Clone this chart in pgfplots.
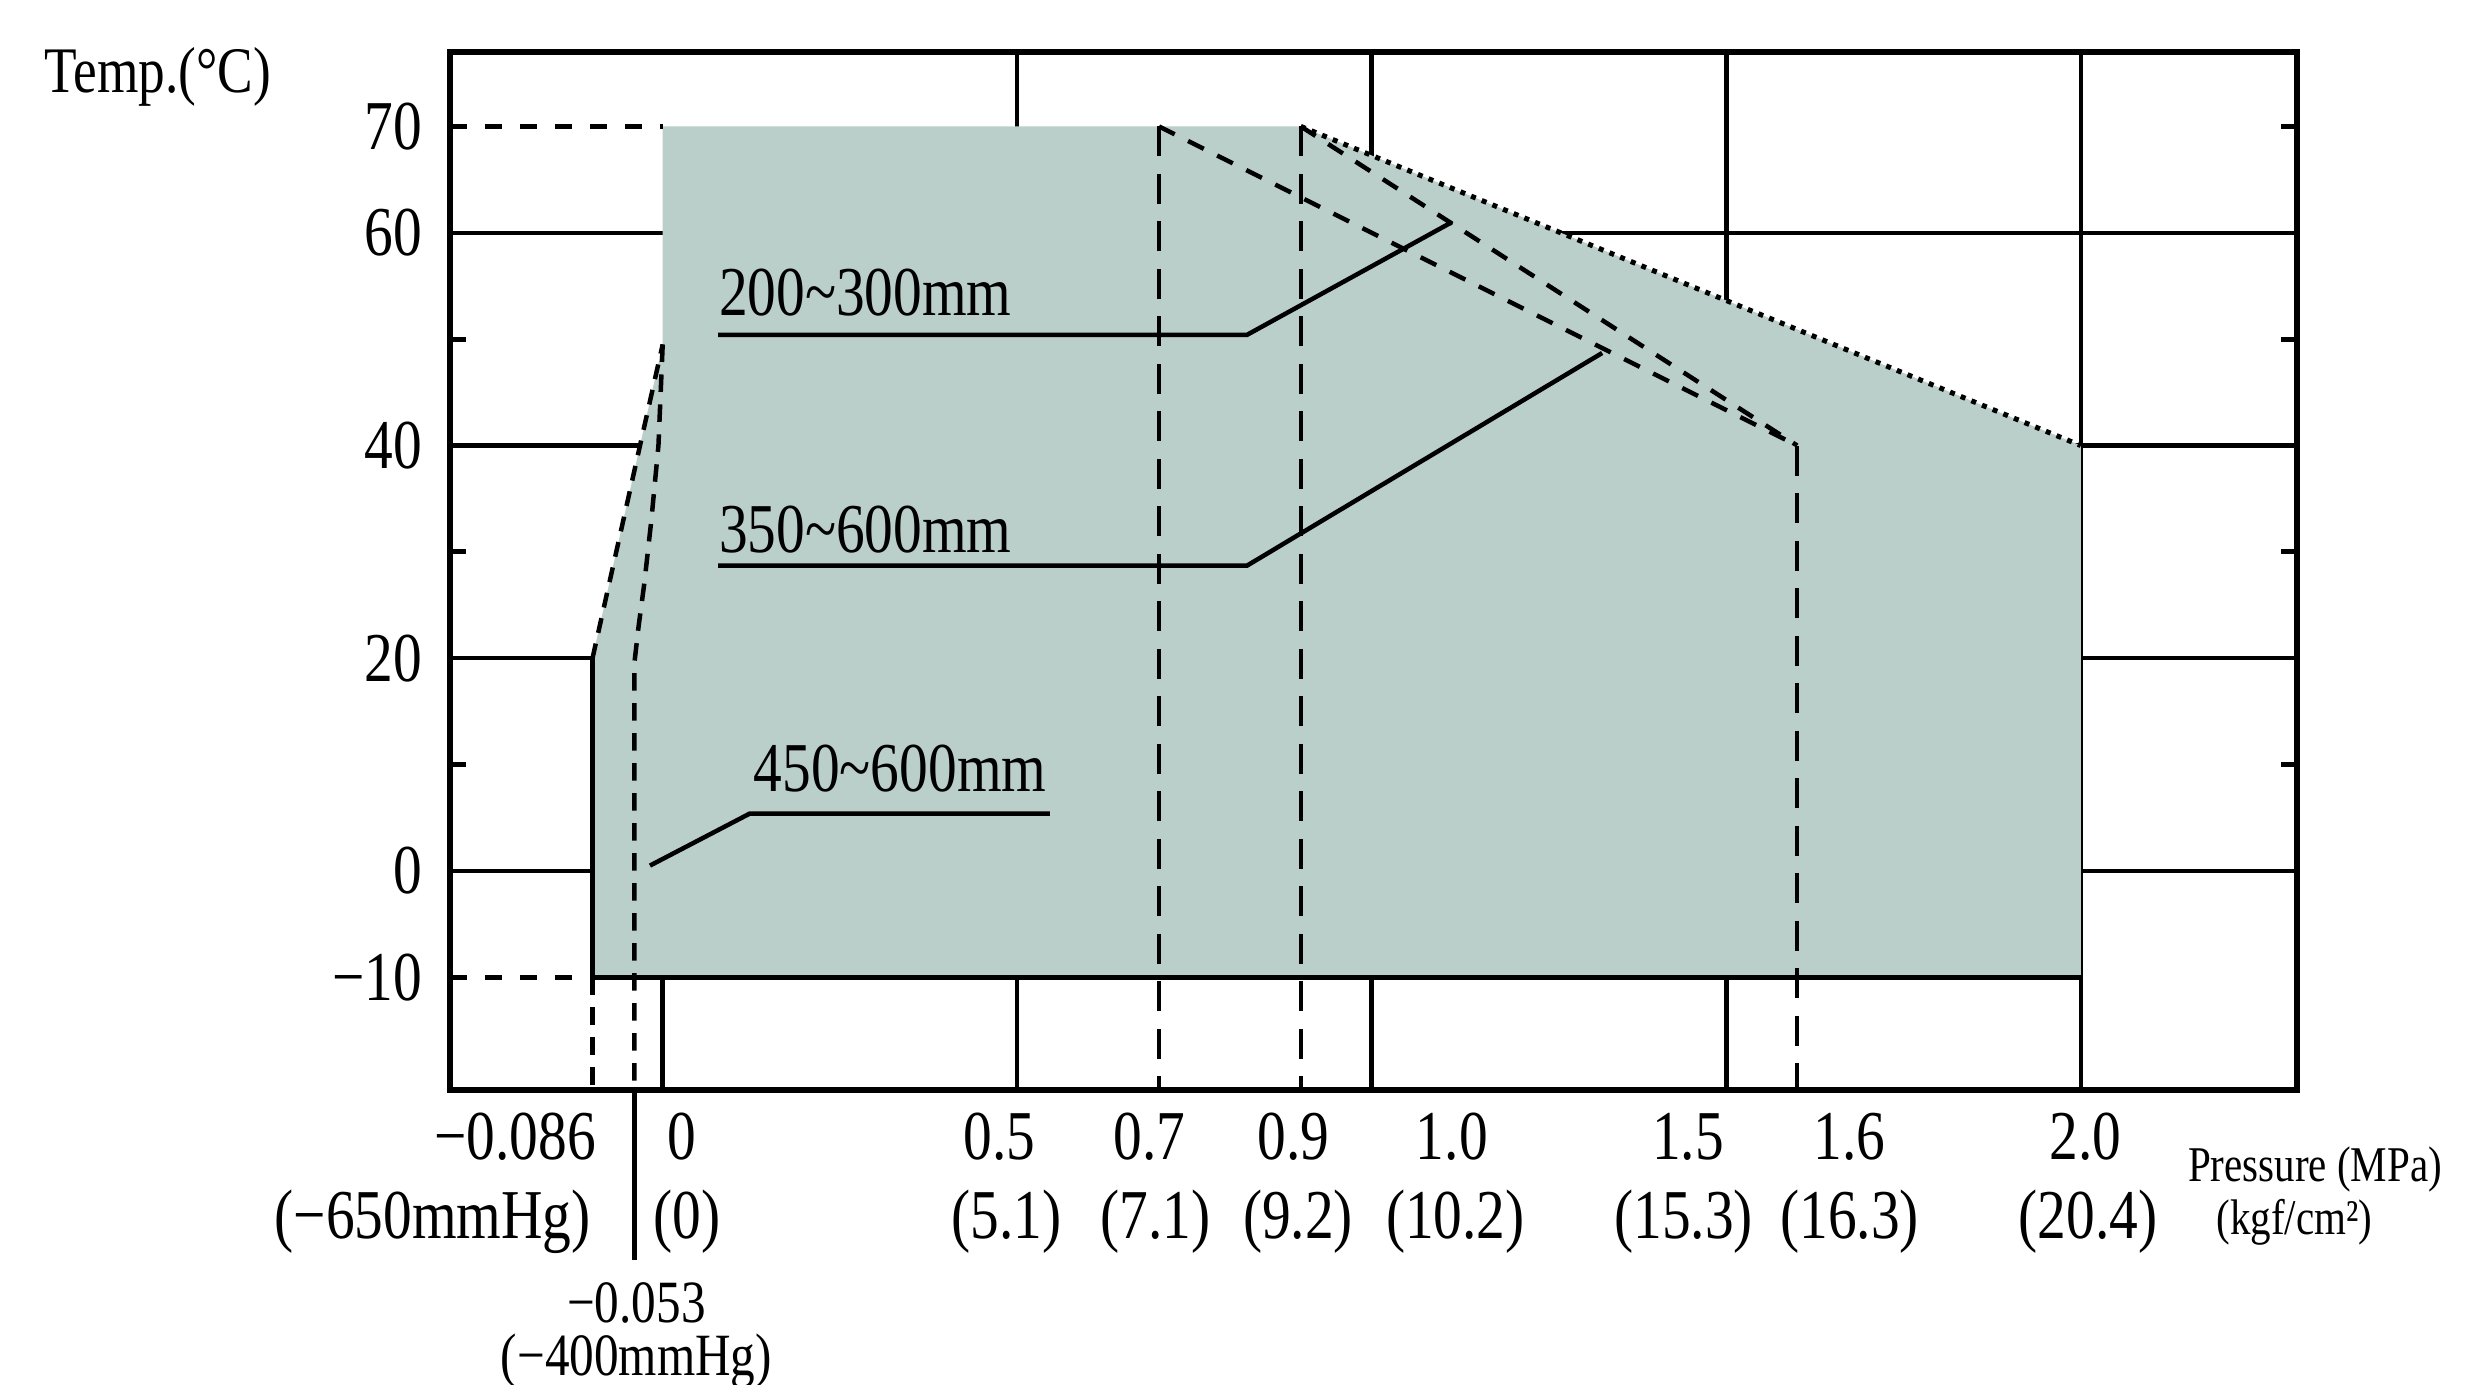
\documentclass[border=0pt]{standalone}
\usepackage{fontspec}
\setmainfont{Liberation Serif}[FakeStretch=0.82]
\usepackage{pgfplots}
\pgfplotsset{compat=1.18}
\definecolor{shade}{RGB}{186,206,202}
\begin{document}
\begin{tikzpicture}[font=\fontsize{14pt}{16pt}\selectfont]
\begin{axis}[
  width=369.4pt, height=207.6pt, scale only axis,
  xmin=-0.3, xmax=2.305, ymin=-20.6, ymax=77,
  axis on top, clip=false,
  axis line style={line width=1.2pt},
  xtick=\empty,
  ytick={-10,0,20,40,60,70},
  yticklabels={−10,0,20,40,60,70},
  major tick length=0pt,
  yticklabel style={anchor=east, inner sep=0pt, xshift=-5.4pt, font=\fontsize{14pt}{16pt}\selectfont},
]
% grid lines (drawn under the shaded region)
\addplot[black, line width=0.9pt] coordinates {(0.5,-20.6) (0.5,77)};
\addplot[black, line width=0.9pt] coordinates {(1.0,-20.6) (1.0,77)};
\addplot[black, line width=0.9pt] coordinates {(1.5,-20.6) (1.5,77)};
\addplot[black, line width=0.9pt] coordinates {(2.0,-20.6) (2.0,77)};
\addplot[black, line width=0.9pt] coordinates {(0,-20.6) (0,-10)};
\addplot[black, line width=0.9pt] coordinates {(-0.3,0) (2.305,0)};
\addplot[black, line width=0.9pt] coordinates {(-0.3,20) (2.305,20)};
\addplot[black, line width=0.9pt] coordinates {(-0.3,40) (2.305,40)};
\addplot[black, line width=0.9pt] coordinates {(-0.3,60) (2.305,60)};
% shaded operating region
\addplot[fill=shade, draw=none] coordinates {(-0.099,-10) (-0.099,20) (-0.032,40) (0,49.5) (0,70) (0.9,70) (2.0,40) (2.0,-10)} -- cycle;
% solid edges of region
\addplot[black, line width=1pt] coordinates {(-0.099,20) (-0.099,-10) (2.0,-10)};
% left dashed boundaries
\addplot[black, line width=0.9pt, dash pattern=on 3pt off 2.2pt] coordinates {(-0.099,20) (-0.032,40) (0,49.5)};
\addplot[black, line width=0.9pt, dash pattern=on 3.5pt off 2.5pt] coordinates {(0,49.5) (-0.006,40) (-0.016,33) (-0.026,27) (-0.034,23) (-0.04,19.5) (-0.04,-20.6)};
\addplot[black, line width=0.9pt, dash pattern=on 3.5pt off 2.5pt] coordinates {(-0.099,-10) (-0.099,-20.6)};
\addplot[black, line width=0.9pt, dash pattern=on 3.5pt off 3.5pt] coordinates {(-0.3,70) (0,70)};
\addplot[black, line width=0.9pt, dash pattern=on 3.5pt off 3.5pt] coordinates {(-0.3,-10) (-0.099,-10)};
\addplot[black, line width=0.9pt] coordinates {(-0.04,-20.6) (-0.04,-36.6)};
% vertical dashed limits
\addplot[black, line width=0.9pt, dash pattern=on 6pt off 3.5pt] coordinates {(0.7,70) (0.7,-20.6)};
\addplot[black, line width=0.9pt, dash pattern=on 6pt off 3.5pt] coordinates {(0.9,70) (0.9,-20.6)};
\addplot[black, line width=0.9pt, dash pattern=on 6pt off 3.5pt] coordinates {(1.6,40) (1.6,-20.6)};
% diagonal dashed limits
\addplot[black, line width=0.9pt, dash pattern=on 3.5pt off 3pt] coordinates {(0.7,70) (1.6,40)};
\addplot[black, line width=0.9pt, dash pattern=on 3.5pt off 3pt] coordinates {(0.9,70) (1.6,40)};
% dotted outer limit
\addplot[black, line width=1pt, dash pattern=on 1pt off 1.3pt] coordinates {(0.9,70) (2.0,40)};
% minor ticks
\addplot[black, line width=1pt] coordinates {(-0.3,10) (-0.277,10)};
\addplot[black, line width=1pt] coordinates {(-0.3,30) (-0.277,30)};
\addplot[black, line width=1pt] coordinates {(-0.3,50) (-0.277,50)};
\addplot[black, line width=1pt] coordinates {(2.305,10) (2.282,10)};
\addplot[black, line width=1pt] coordinates {(2.305,30) (2.282,30)};
\addplot[black, line width=1pt] coordinates {(2.305,50) (2.282,50)};
\addplot[black, line width=1pt] coordinates {(2.305,70) (2.282,70)};
% annotation leaders
\addplot[black, line width=0.9pt] coordinates {(0.078,50.4) (0.824,50.4) (1.113,61.0)};
\addplot[black, line width=0.9pt] coordinates {(0.078,28.7) (0.824,28.7) (1.325,48.7)};
\addplot[black, line width=0.9pt] coordinates {(0.546,5.4) (0.123,5.4) (-0.018,0.5)};
\node[anchor=west, inner sep=0pt] at (0.078,54.4) {200\textasciitilde300mm};
\node[anchor=west, inner sep=0pt] at (0.078,32.1) {350\textasciitilde600mm};
\node[anchor=west, inner sep=0pt] at (0.127,9.6) {450\textasciitilde600mm};
% x tick labels
\node[anchor=east, inner sep=0pt] at (-0.093,-25.0) {−0.086};
\node[anchor=east, inner sep=0pt] at (-0.100,-33.0) {(−650mmHg)};
\node[inner sep=0pt] at (0.027,-25.0) {0};
\node[inner sep=0pt] at (0.034,-33.0) {(0)};
\node[inner sep=0pt, font=\fontsize{12pt}{13pt}\selectfont] at (-0.037,-40.6) {−0.053};
\node[inner sep=0pt, font=\fontsize{12pt}{13pt}\selectfont] at (-0.037,-46.1) {(−400mmHg)};
\node[inner sep=0pt] at (0.475,-25.0) {0.5};
\node[inner sep=0pt] at (0.485,-33.0) {(5.1)};
\node[inner sep=0pt] at (0.687,-25.0) {0.7};
\node[inner sep=0pt] at (0.695,-33.0) {(7.1)};
\node[inner sep=0pt] at (0.890,-25.0) {0.9};
\node[inner sep=0pt] at (0.896,-33.0) {(9.2)};
\node[inner sep=0pt] at (1.113,-25.0) {1.0};
\node[inner sep=0pt] at (1.118,-33.0) {(10.2)};
\node[inner sep=0pt] at (1.446,-25.0) {1.5};
\node[inner sep=0pt] at (1.440,-33.0) {(15.3)};
\node[inner sep=0pt] at (1.674,-25.0) {1.6};
\node[inner sep=0pt] at (1.674,-33.0) {(16.3)};
\node[inner sep=0pt] at (2.007,-25.0) {2.0};
\node[inner sep=0pt] at (2.010,-33.0) {(20.4)};
\node[anchor=west, inner sep=0pt, font=\fontsize{10pt}{12pt}\selectfont] at (2.150,-28.1) {Pressure (MPa)};
\node[anchor=west, inner sep=0pt, font=\fontsize{10pt}{12pt}\selectfont] at (2.190,-33.0) {(kgf/cm²)};
\node[anchor=west, inner sep=0pt, font=\fontsize{13pt}{15pt}\selectfont] at (-0.873,74.7) {Temp.(°C)};
\coordinate (sw) at (rel axis cs:0,0);
\coordinate (ne) at (rel axis cs:1,1);
\end{axis}
\pgfresetboundingbox
\path ([shift={(-90pt,-58.8pt)}]sw) rectangle ([shift={(35.8pt,10.4pt)}]ne);
\end{tikzpicture}
\end{document}
